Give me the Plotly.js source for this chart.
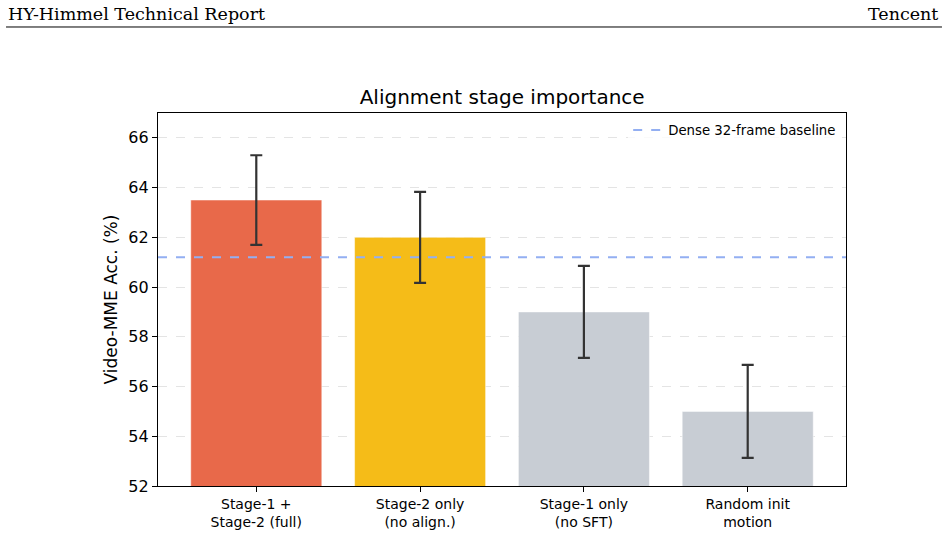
<!DOCTYPE html>
<html>
<head>
<meta charset="utf-8">
<script src="https://cdn.plot.ly/plotly-3.0.1.min.js"></script>
<style>
  html, body { margin: 0; padding: 0; background: #ffffff; }
  #chart { width: 948px; height: 536px; }
</style>
</head>
<body>
<div id="chart"></div>
<script>
// Ablation of the alignment stages: Video-MME accuracy per training recipe
const categories = [
  "Stage-1 +<br>Stage-2 (full)",
  "Stage-2 only<br>(no align.)",
  "Stage-1 only<br>(no SFT)",
  "Random init<br>motion"
];
const accuracy = [63.5, 62.0, 59.0, 55.0];
const accuracyErr = [1.8, 1.83, 1.85, 1.87];
const barColors = ["#E8694A", "#F5BC18", "#C8CDD4", "#C8CDD4"];
const baselineValue = 61.2;
const baselineLabel = "Dense 32-frame baseline";
const yTicks = [52, 54, 56, 58, 60, 62, 64, 66];

const xIdx = categories.map((_, i) => i);
const xRange = [-0.6, categories.length - 0.4];

const bars = {
  type: "bar",
  x: xIdx,
  y: accuracy,
  width: 0.8,
  marker: { color: barColors, line: { color: "rgba(255,255,255,0.5)", width: 1 } },
  error_y: {
    type: "data",
    array: accuracyErr,
    visible: true,
    color: "#333333",
    thickness: 2.2,
    width: 6
  },
  showlegend: false,
  hoverinfo: "y"
};

const baseline = {
  type: "scatter",
  mode: "lines",
  x: xRange,
  y: [baselineValue, baselineValue],
  name: baselineLabel,
  line: { color: "#93AFF2", width: 2, dash: "dash" },
  showlegend: true
};

const serif = "'DejaVu Serif', 'Liberation Serif', serif";
const sans = "'DejaVu Sans', sans-serif";

const layout = {
  width: 948,
  height: 536,
  margin: { l: 158, r: 102, t: 113, b: 50 },
  paper_bgcolor: "#ffffff",
  plot_bgcolor: "#ffffff",
  font: { family: sans, color: "#000000" },
  title: {
    text: "Alignment stage importance",
    font: { family: sans, size: 20, color: "#000000" },
    x: 0.5297, xanchor: "center",
    y: 0.819, yanchor: "middle",
    xref: "container", yref: "container"
  },
  xaxis: {
    range: xRange,
    tickvals: xIdx,
    ticktext: categories,
    ticks: "outside",
    ticklen: 5,
    tickwidth: 1,
    tickcolor: "#000000",
    showline: true,
    linecolor: "#000000",
    linewidth: 1.2,
    mirror: true,
    showgrid: false,
    zeroline: false,
    tickfont: { family: sans, size: 14, color: "#000000" }
  },
  yaxis: {
    range: [52, 67],
    tickvals: yTicks,
    ticks: "outside",
    ticklen: 5,
    tickwidth: 1,
    tickcolor: "#000000",
    showline: true,
    linecolor: "#000000",
    linewidth: 1.2,
    mirror: true,
    showgrid: true,
    gridcolor: "#e4e4e4",
    griddash: "dash",
    gridwidth: 1,
    zeroline: false,
    tickfont: { family: sans, size: 16, color: "#000000" },
    title: { text: "Video-MME Acc. (%)", font: { family: sans, size: 17, color: "#000000" }, standoff: 6 }
  },
  legend: {
    x: 0.993, xanchor: "right",
    y: 0.995, yanchor: "top",
    bgcolor: "rgba(255,255,255,0.8)",
    borderwidth: 0,
    font: { family: sans, size: 13.3, color: "#000000" },
    itemwidth: 30
  },
  annotations: [
    {
      text: "HY-Himmel Technical Report",
      xref: "paper", yref: "paper",
      x: -0.2209, xanchor: "left",
      y: 1.2654, yanchor: "middle",
      showarrow: false,
      font: { family: serif, size: 17.5, color: "#000000" }
    },
    {
      text: "Tencent",
      xref: "paper", yref: "paper",
      x: 1.1366, xanchor: "right",
      y: 1.2654, yanchor: "middle",
      showarrow: false,
      font: { family: serif, size: 17.5, color: "#000000" }
    }
  ],
  shapes: [
    {
      type: "line",
      xref: "paper", yref: "paper",
      x0: -0.2209, x1: 1.1395,
      y0: 1.2306, y1: 1.2306,
      line: { color: "#000000", width: 1 }
    }
  ]
};

Plotly.newPlot("chart", [bars, baseline], layout, { displayModeBar: false, staticPlot: true });
</script>
</body>
</html>
